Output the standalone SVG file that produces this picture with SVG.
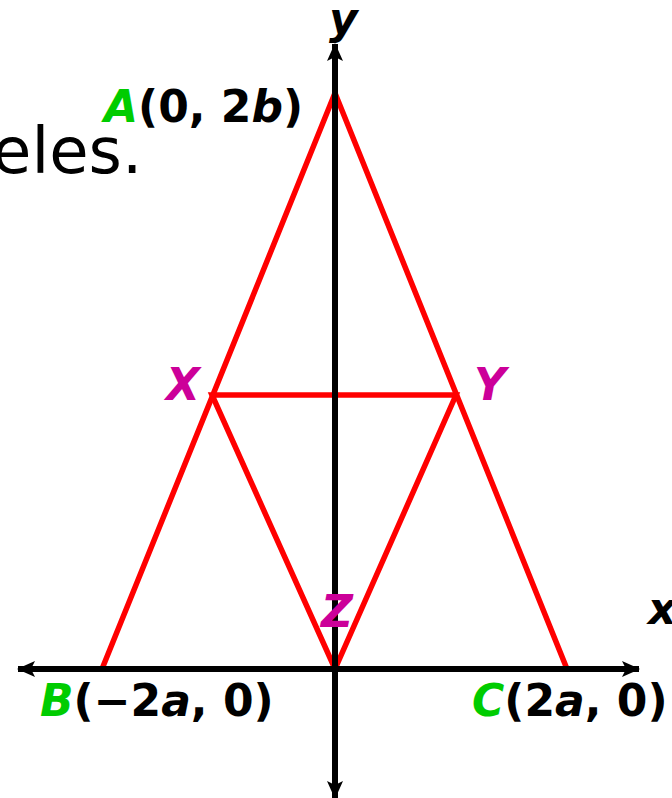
<svg xmlns="http://www.w3.org/2000/svg" width="672" height="798" viewBox="0 0 672 798">
<style>
.lbl{font-family:"DejaVu Sans","Verdana",sans-serif;font-weight:bold;font-size:44px;fill:#000}
.it{font-style:italic}
.g{fill:#00CC00}
.m{fill:#CC0099}
.ax{stroke:#000;stroke-width:6;fill:none}
.tri{stroke:#FF0000;stroke-width:5.5;fill:none;stroke-linejoin:miter}
</style>
<defs>
<marker id="ah" viewBox="0 0 18 18" refX="17" refY="9" markerWidth="18" markerHeight="18" markerUnits="userSpaceOnUse" orient="auto-start-reverse">
<path d="M0,1 L18,9 L0,17 L4,9 Z" fill="#000"/>
</marker>
</defs>
<rect width="672" height="798" fill="#fff"/>
<text x="-8" y="173" font-family="DejaVu Sans, Verdana, sans-serif" font-size="64" fill="#000">eles.</text>
<g id="connectors">
<polygon class="tri" points="335,93 102,669 567,669"/>
<polygon class="tri" points="212,395 456,395 335,669"/>
<line class="ax" x1="18" y1="669" x2="639" y2="669" marker-start="url(#ah)" marker-end="url(#ah)"/>
<line class="ax" x1="335" y1="798" x2="335" y2="44" marker-start="url(#ah)" marker-end="url(#ah)"/>
</g>
<g id="axis-x"><text class="lbl it" x="648" y="624">x</text></g>
<g id="axis-y"><text class="lbl it" x="329" y="34">y</text></g>
<g id="A"><text class="lbl" x="104" y="122"><tspan class="it g">A</tspan>(0, 2<tspan class="it">b</tspan>)</text></g>
<g id="B"><text class="lbl" x="40" y="716"><tspan class="it g">B</tspan>(−2<tspan class="it">a</tspan>, 0)</text></g>
<g id="C"><text class="lbl" x="472" y="716"><tspan class="it g">C</tspan>(2<tspan class="it">a</tspan>, 0)</text></g>
<g id="X"><text class="lbl it m" x="166" y="400">X</text></g>
<g id="Y"><text class="lbl it m" x="474" y="400">Y</text></g>
<g id="Z"><text class="lbl it m" x="321" y="627">Z</text></g>
</svg>
